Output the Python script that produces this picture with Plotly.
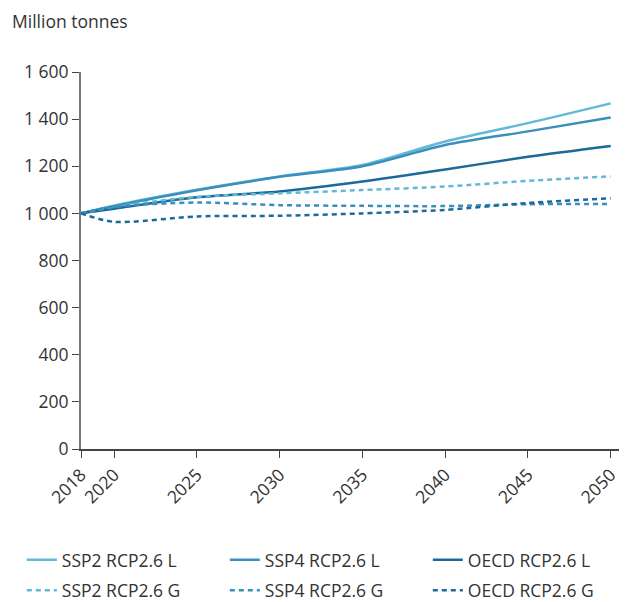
import plotly.graph_objects as go

years = [2018, 2020, 2025, 2030, 2035, 2040, 2045, 2050]

ssp2_l = [1000, 1033, 1100, 1157, 1205, 1305, 1383, 1467]
ssp4_l = [1000, 1030, 1098, 1155, 1200, 1290, 1348, 1407]
oecd_l = [1000, 1020, 1068, 1093, 1135, 1186, 1240, 1286]
ssp2_g = [1000, 1028, 1070, 1085, 1099, 1114, 1138, 1157]
ssp4_g = [1000, 1028, 1046, 1035, 1032, 1031, 1039, 1040]
oecd_g = [1000, 964, 987, 990, 1000, 1015, 1044, 1064]

series_names = ["SSP2 RCP2.6 L", "SSP4 RCP2.6 L", "OECD RCP2.6 L",
                "SSP2 RCP2.6 G", "SSP4 RCP2.6 G", "OECD RCP2.6 G"]
series_vals = [ssp2_l, ssp4_l, oecd_l, ssp2_g, ssp4_g, oecd_g]
colors = ["#62b9d6", "#3a8fbd", "#1b6a9b", "#62b9d6", "#3a8fbd", "#1b6a9b"]
dashes = ["solid", "solid", "solid", "5px,4px", "5px,4px", "5px,4px"]
legends = ["legend", "legend", "legend", "legend2", "legend2", "legend2"]

xticks = [2018, 2020, 2025, 2030, 2035, 2040, 2045, 2050]
yticks = [0, 200, 400, 600, 800, 1000, 1200, 1400, 1600]

fig = go.Figure()
for name, vals, c, d, lg in zip(series_names, series_vals, colors, dashes, legends):
    fig.add_trace(go.Scatter(
        x=years, y=vals, name=name, mode="lines", legend=lg,
        line=dict(color=c, width=2.5, dash=d, shape="spline", smoothing=0.8),
    ))

font_family = "Open Sans, Noto Sans, sans-serif"
leg_common = dict(
    orientation="h", x=-0.11, xanchor="left", yanchor="middle",
    entrywidth=158, entrywidthmode="pixels",
    font=dict(size=17.5, color="#333333"),
    traceorder="normal",
)
fig.update_layout(
    width=628, height=616,
    margin=dict(l=73, r=17, t=64, b=175),
    plot_bgcolor="white", paper_bgcolor="white",
    font=dict(family=font_family, size=17.5, color="#333333"),
    separators=". ",
    showlegend=True,
    legend=dict(y=-0.2944, **leg_common),
    legend2=dict(y=-0.375, **leg_common),
    title=dict(
        text="Million tonnes", xref="container", yref="container",
        x=0.0064, y=0.9773, xanchor="left", yanchor="middle",
        font=dict(size=17.5, color="#333333"),
    ),
)
fig.update_xaxes(
    range=[2018, 2050.5], tickvals=xticks, ticktext=[str(t) for t in xticks],
    tickangle=-45, ticks="outside", ticklen=7, tickcolor="#444444",
    showline=True, linecolor="#444444", linewidth=1.5,
    showgrid=False, zeroline=False, automargin=False,
)
fig.update_yaxes(
    range=[0, 1600], tickvals=yticks, tickformat=",d",
    ticks="outside", ticklen=7, tickcolor="#444444",
    showline=True, linecolor="#777777", linewidth=2,
    showgrid=False, zeroline=False, automargin=False,
)
fig.write_html("out.html")
